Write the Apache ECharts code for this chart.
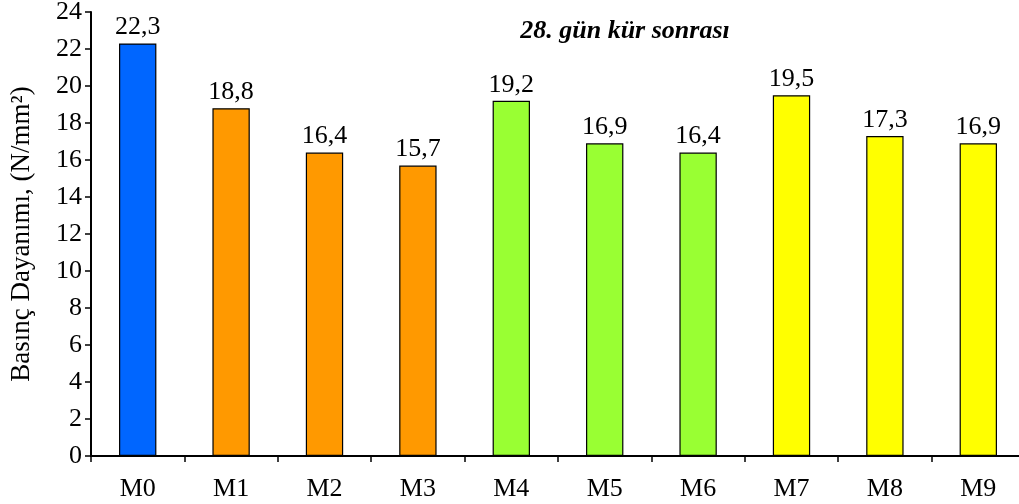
<!DOCTYPE html>
<html>
<head>
<meta charset="utf-8">
<script src="https://cdn.jsdelivr.net/npm/echarts@6/dist/echarts.min.js"></script>
<style>
  html, body { margin: 0; padding: 0; background: #fff; }
  #chart { width: 1019px; height: 504px; }
</style>
</head>
<body>
<div id="chart"></div>
<script>
// Mixture codes and 28-day compressive strength (N/mm²)
const categories = ['M0', 'M1', 'M2', 'M3', 'M4', 'M5', 'M6', 'M7', 'M8', 'M9'];
const strength = [22.3, 18.8, 16.4, 15.7, 19.2, 16.9, 16.4, 19.5, 17.3, 16.9];
const barColors = ['#0066ff', '#ff9900', '#ff9900', '#ff9900', '#99ff33', '#99ff33', '#99ff33', '#ffff00', '#ffff00', '#ffff00'];

const serif = '"Liberation Serif", "DejaVu Serif", serif';

const chart = echarts.init(document.getElementById('chart'));
chart.setOption({
  animation: false,
  backgroundColor: '#ffffff',
  title: {
    text: '28. gün kür sonrası',
    left: 620,
    top: 13,
    textAlign: 'center',
    textStyle: { fontFamily: serif, fontSize: 26, fontWeight: 'bold', fontStyle: 'italic', color: '#000' }
  },
  grid: { left: 91, right: -6, top: 12, bottom: 48, containLabel: false, outerBoundsMode: 'none' },
  xAxis: {
    type: 'category',
    data: categories,
    axisLine: { lineStyle: { color: '#000', width: 2 } },
    axisTick: { show: true, length: 6, lineStyle: { color: '#000', width: 1.5 } },
    axisLabel: { color: '#000', fontFamily: serif, fontSize: 26, margin: 20 },
    splitLine: { show: false }
  },
  yAxis: {
    type: 'value',
    min: 0,
    max: 24,
    interval: 2,
    name: 'Basınç Dayanımı, (N/mm²)',
    nameLocation: 'middle',
    nameRotate: 90,
    nameGap: 56,
    nameTextStyle: { color: '#000', fontFamily: serif, fontSize: 27 },
    axisLine: { show: true, lineStyle: { color: '#000', width: 2 } },
    axisTick: { show: true, length: 6, lineStyle: { color: '#000', width: 1.5 } },
    axisLabel: { color: '#000', fontFamily: serif, fontSize: 26, margin: 9 },
    splitLine: { show: false }
  },
  series: [{
    type: 'bar',
    barWidth: '40%',
    data: strength.map((v, i) => ({
      value: v,
      itemStyle: { color: barColors[i], borderColor: '#000', borderWidth: 1.2 }
    })),
    label: {
      show: true,
      position: 'top',
      distance: 3,
      color: '#000',
      fontFamily: serif,
      fontSize: 26,
      formatter: p => p.value.toFixed(1).replace('.', ',')
    }
  }]
});
</script>
</body>
</html>
